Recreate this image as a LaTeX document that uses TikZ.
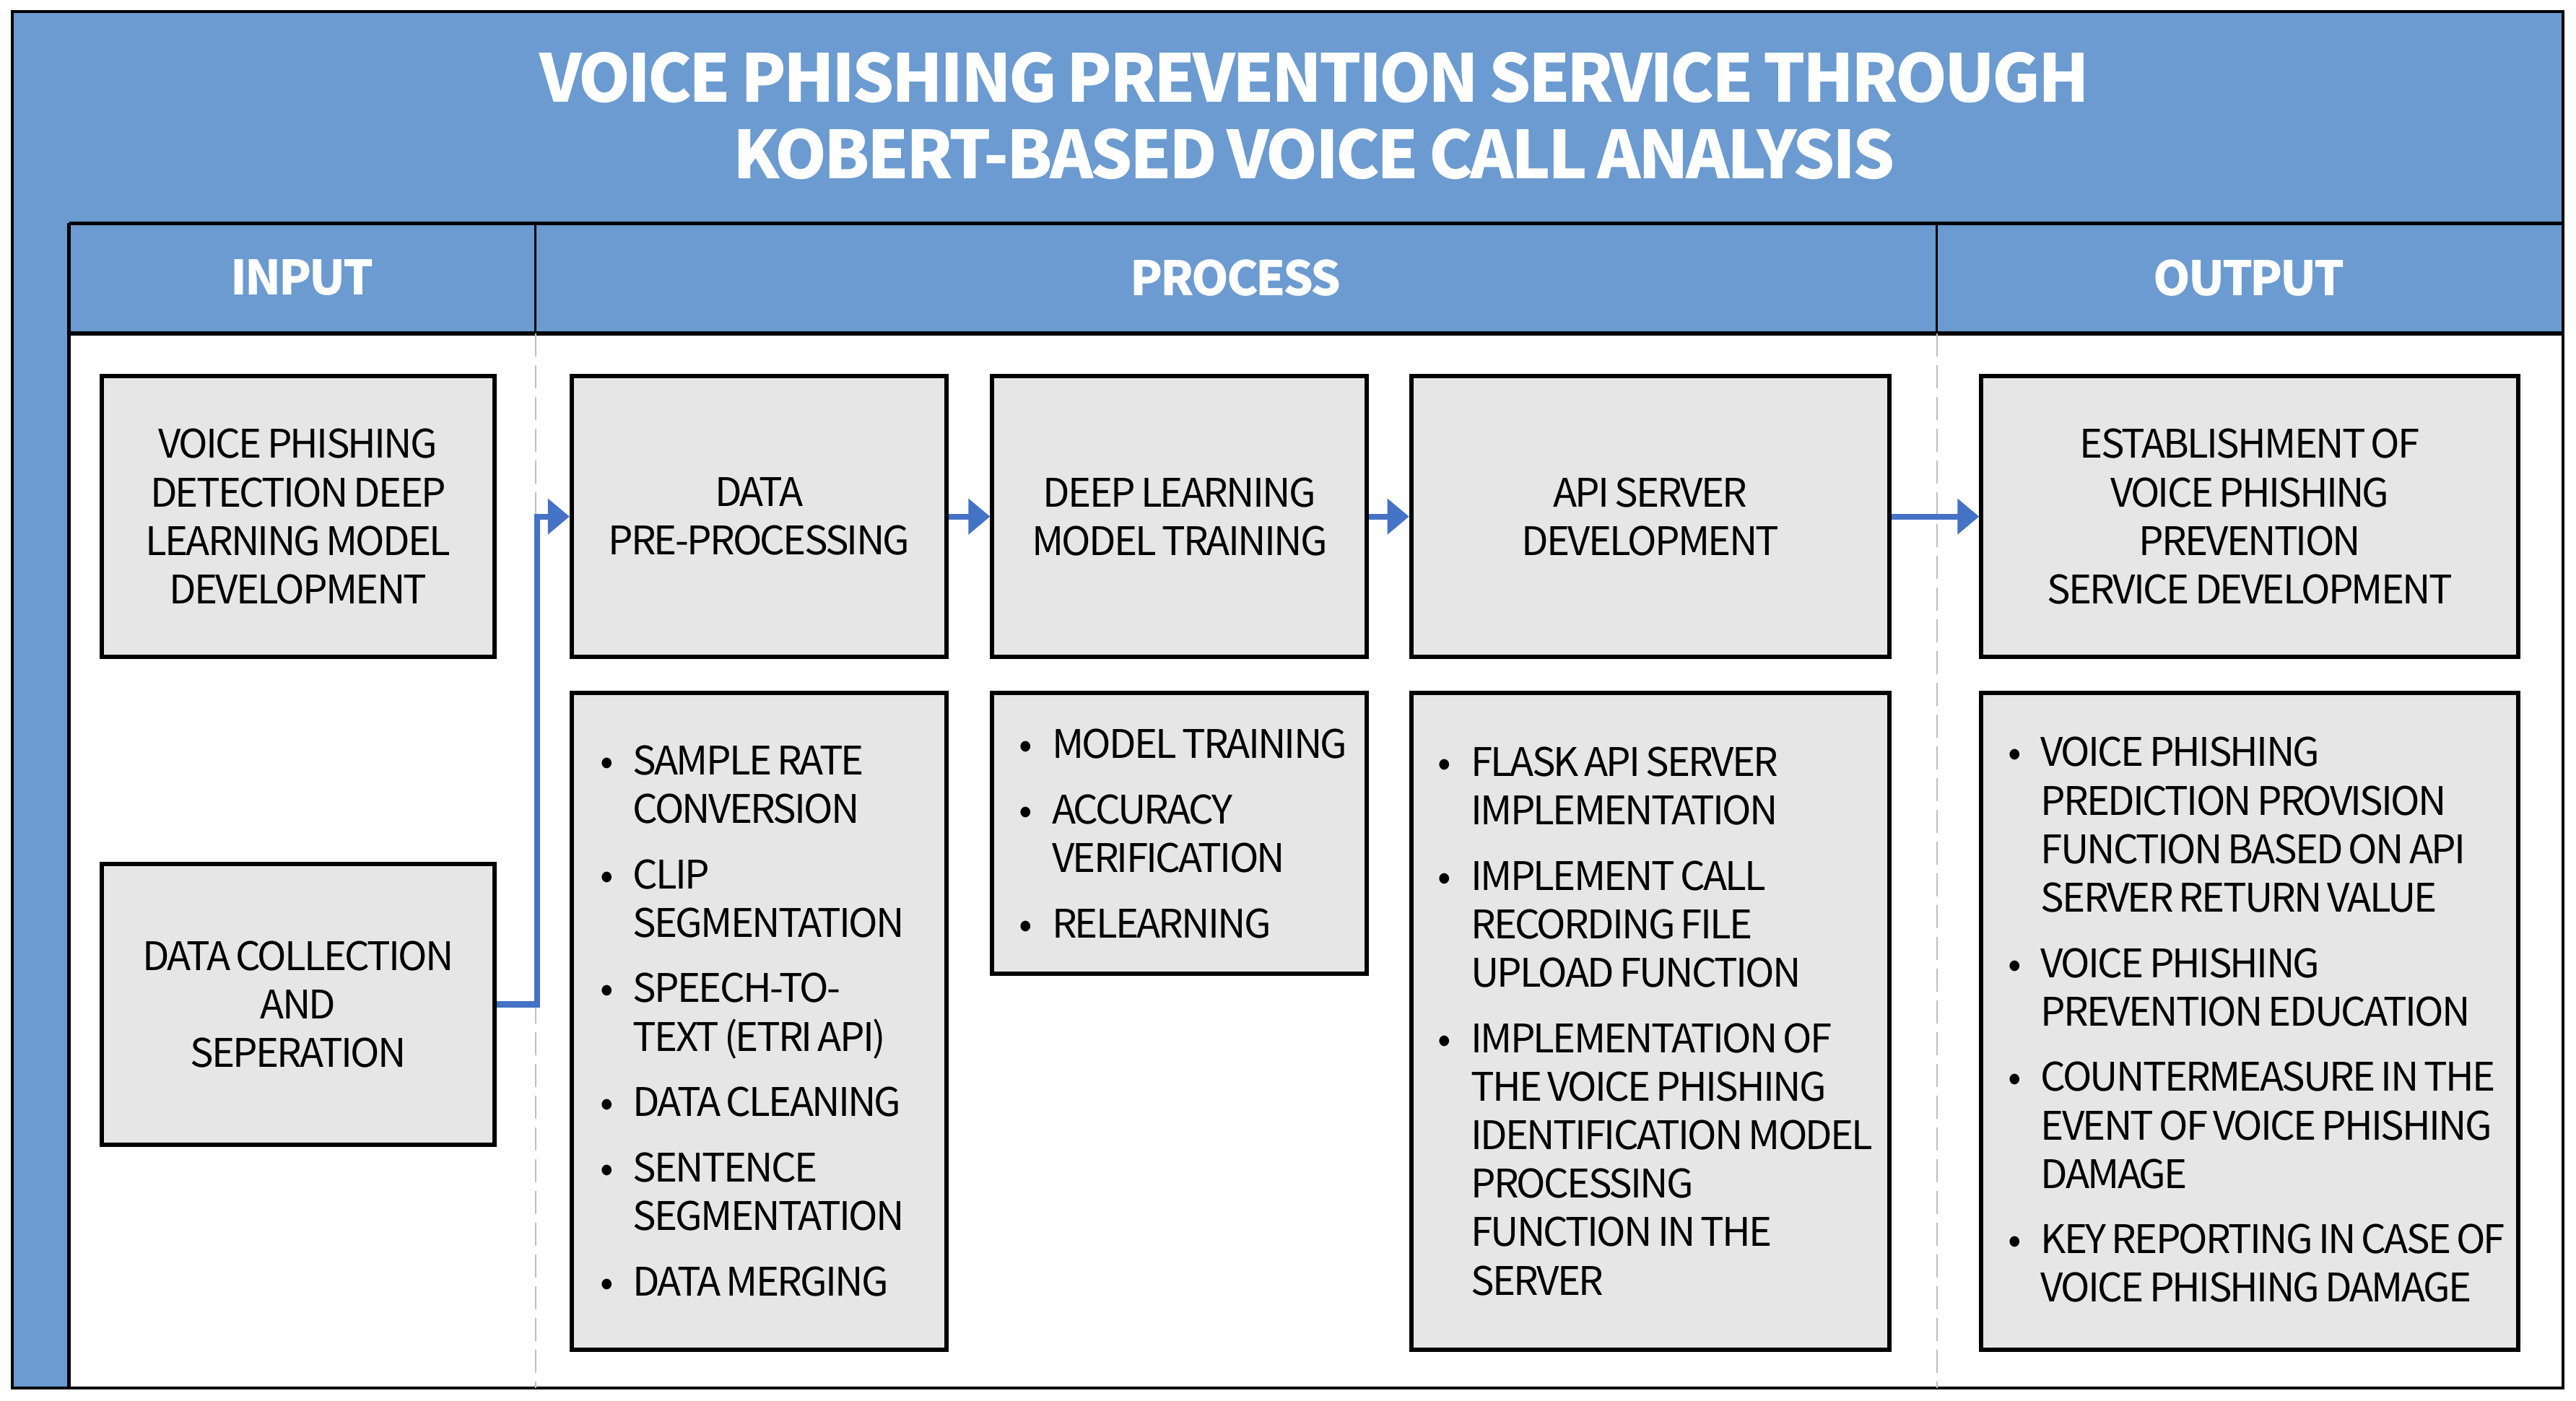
\documentclass[tikz,border=0pt]{standalone}
\usepackage{fontspec}
\setmainfont{Noto Sans CJK KR}[LetterSpace=-5, WordSpace=0.75]
\newfontfamily\titlefont{Noto Sans CJK KR}[LetterSpace=-4, WordSpace=0.8]
\usetikzlibrary{arrows.meta}
\definecolor{hdrblue}{RGB}{107,155,208}
\definecolor{arrblue}{RGB}{68,114,196}
\definecolor{boxgray}{RGB}{230,230,230}
\definecolor{dashgray}{RGB}{191,191,191}
\newdimen\pxu \pxu=0.022755cm
\newdimen\bulw \bulw=0.455cm
\newcommand\nl{\hfil\break}
\newcommand\bitem[1]{\hangindent=\bulw\hangafter=1\noindent\hbox to \bulw{\textbullet\hfil}#1\par}
\newcommand\igap{\vspace{6.7pt}}
\newcommand\normsp{\spaceskip=0pt\xspaceskip=0pt\relax}
\tikzset{
  box/.style={draw=black, line width=1.7pt, fill=boxgray, align=center, inner sep=0pt,
    font=\fontsize{15.5pt}{19.1pt}\selectfont},
  listtext/.style={anchor=north west, inner sep=0pt, align=flush left, text width=#1*\pxu,
    font=\fontsize{15.5pt}{19.1pt}\selectfont},
  hdr/.style={text=white, font=\fontsize{18.7pt}{22pt}\selectfont\bfseries, inner sep=0pt},
  conn/.style={draw=arrblue, line width=2.3pt, -{Triangle[length=0.3cm, width=0.48cm]}},
  divdash/.style={draw=dashgray, line width=0.7pt, dash pattern=on 0.32cm off 0.12cm},
}
\begin{document}
\begin{tikzpicture}[x=0.022755cm, y=-0.022755cm]
\useasboundingbox (0,0) rectangle (1568,853);
\fill[white] (0,0) rectangle (1568,853);
% outer frame
\draw[fill=hdrblue, line width=1.2pt] (7.5,7) rectangle (1560,845);
% body
\fill[white] (42,203) rectangle (1560,845);
\draw[line width=1.6pt] (42,136) -- (1560,136);
\draw[line width=1.6pt] (42,203) -- (1560,203);
\draw[line width=1.2pt] (42,136) -- (42,845);
\draw[line width=0.9pt] (326,136) -- (326,203);
\draw[line width=0.9pt] (1179,136) -- (1179,203);
\draw[line width=1.2pt] (7.5,845) -- (1560,845);
\draw[line width=1.2pt] (1560,7) -- (1560,845);
\draw[divdash] (326,203) -- (326,845);
\draw[divdash] (1179,203) -- (1179,845);
% title
\node[text=white, align=center, inner sep=0pt, font=\titlefont\fontsize{26pt}{30.3pt}\selectfont\bfseries] (title) at (800,70.5)
  {VOICE PHISHING PREVENTION SERVICE THROUGH\\KOBERT-BASED VOICE CALL ANALYSIS};
% headers
\node[hdr] (hin) at (184,169) {INPUT};
\node[hdr] (hpr) at (752,169) {PROCESS};
\node[hdr] (hout) at (1369,169) {OUTPUT};
% boxes
\node[box, minimum width=239*\pxu, minimum height=171*\pxu] (in1) at (181.5,314.5)
  {VOICE PHISHING\\DETECTION DEEP\\LEARNING MODEL\\DEVELOPMENT};
\node[box, minimum width=239*\pxu, minimum height=171*\pxu] (in2) at (181.5,611.5)
  {DATA COLLECTION\\AND\\SEPERATION};
\node[box, minimum width=228*\pxu, minimum height=171*\pxu] (p1) at (462,314.5)
  {DATA\\PRE-PROCESSING};
\node[box, minimum width=228*\pxu, minimum height=171*\pxu] (p2) at (718,314.5)
  {DEEP LEARNING\\MODEL TRAINING};
\node[box, minimum width=291*\pxu, minimum height=171*\pxu] (p3) at (1004.5,314.5)
  {API SERVER\\DEVELOPMENT};
\node[box, minimum width=327*\pxu, minimum height=171*\pxu] (o1) at (1369.5,314.5)
  {ESTABLISHMENT OF\\VOICE PHISHING\\PREVENTION\\SERVICE DEVELOPMENT};
\node[box, minimum width=228*\pxu, minimum height=400*\pxu] (p1b) at (462,622) {};
\node[box, minimum width=228*\pxu, minimum height=171*\pxu] (p2b) at (718,507.5) {};
\node[box, minimum width=291*\pxu, minimum height=400*\pxu] (p3b) at (1004.5,622) {};
\node[box, minimum width=327*\pxu, minimum height=400*\pxu] (o1b) at (1369.5,622) {};
% list texts
\node[listtext=260] (p1t) at (365,453.5) {\normsp
  \bitem{SAMPLE RATE\nl CONVERSION}\igap
  \bitem{CLIP\nl SEGMENTATION}\igap
  \bitem{SPEECH-TO-\nl TEXT (ETRI API)}\igap
  \bitem{DATA CLEANING}\igap
  \bitem{SENTENCE\nl SEGMENTATION}\igap
  \bitem{DATA MERGING}};
\node[listtext=260] (p2t) at (620,443.5) {\normsp
  \bitem{MODEL TRAINING}\igap
  \bitem{ACCURACY\nl VERIFICATION}\igap
  \bitem{RELEARNING}};
\node[listtext=320] (p3t) at (875,454.5) {\normsp
  \bitem{FLASK API SERVER\nl IMPLEMENTATION}\igap
  \bitem{IMPLEMENT CALL\nl RECORDING FILE\nl UPLOAD FUNCTION}\igap
  \bitem{IMPLEMENTATION OF\nl THE VOICE PHISHING\nl IDENTIFICATION MODEL\nl PROCESSING\nl FUNCTION IN THE\nl SERVER}};
\node[listtext=360] (o1t) at (1222,448.5) {\normsp
  \bitem{VOICE PHISHING\nl PREDICTION PROVISION\nl FUNCTION BASED ON API\nl SERVER RETURN VALUE}\igap
  \bitem{VOICE PHISHING\nl PREVENTION EDUCATION}\igap
  \bitem{COUNTERMEASURE IN THE\nl EVENT OF VOICE PHISHING\nl DAMAGE}\igap
  \bitem{KEY REPORTING IN CASE OF\nl VOICE PHISHING DAMAGE}};
% connectors
\draw[conn] (in2.east) -- ++(24.5,0) |- (p1.west);
\draw[conn] (p1.east) -- (p2.west);
\draw[conn] (p2.east) -- (p3.west);
\draw[conn] (p3.east) -- (o1.west);
\end{tikzpicture}
\end{document}
